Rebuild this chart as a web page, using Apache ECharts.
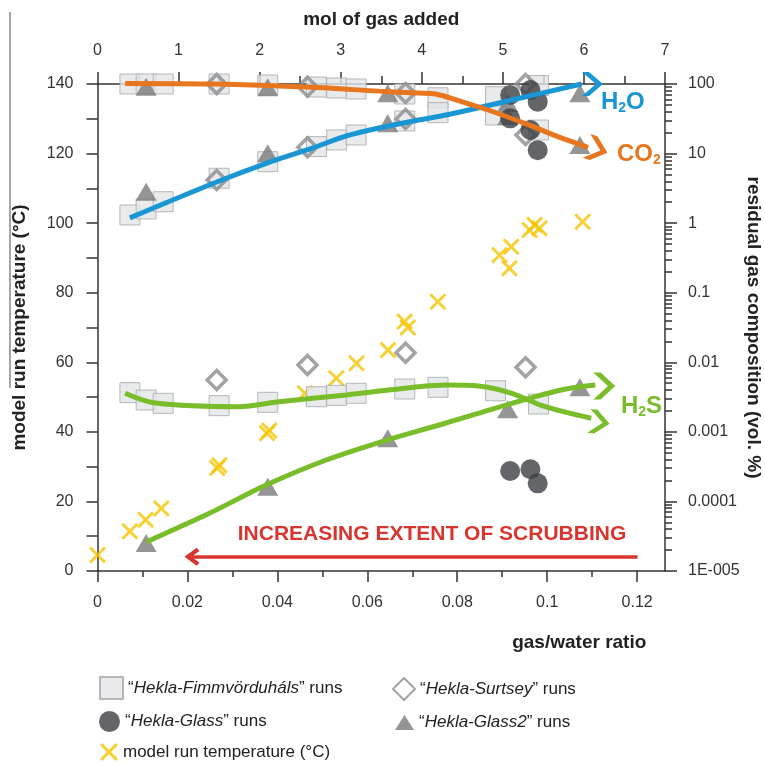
<!DOCTYPE html>
<html><head><meta charset="utf-8">
<script src="https://cdn.jsdelivr.net/npm/echarts@6/dist/echarts.min.js"></script>
<style>html,body{margin:0;padding:0;background:#fff}#c{width:765px;height:765px}</style>
</head><body><div id="c"></div>
<script>
// ---------- tick labels ----------
const ratioTicks = [0, 0.02, 0.04, 0.06, 0.08, 0.1, 0.12];
const ratioMinorTicks = [0.01, 0.03, 0.05, 0.07, 0.09, 0.11];
const logTicks = [1e-5, 1e-4, 1e-3, 1e-2, 0.1, 1, 10, 100];
const logTickLabels = ['1E-005', '0.0001', '0.001', '0.01', '0.1', '1', '10', '100'];

// ---------- model run temperature (x = gas/water ratio, y = °C) ----------
const tempRatio = [0, 0.0072, 0.0107, 0.0142, 0.0266, 0.0271, 0.0377, 0.0382, 0.0461, 0.0531, 0.0576, 0.0646, 0.0683, 0.069, 0.0757, 0.0894, 0.0916, 0.092, 0.0961, 0.0972, 0.0983, 0.1079];
const tempC = [4.6, 11.4, 14.7, 18.0, 29.6, 30.4, 39.6, 40.4, 51.1, 55.4, 59.7, 63.5, 71.7, 70.0, 77.4, 90.8, 87.0, 93.2, 98.0, 99.5, 98.5, 100.4];

// ---------- residual gas composition (x = mol of gas added, y = vol. %) ----------
const fimmMol = [0.40, 0.60, 0.81, 1.50, 2.10, 2.70, 2.95, 3.19, 3.79, 4.20, 4.91, 5.44];
const fimmCO2 = [100, 100, 100, 100, 96.7, 90.5, 87.6, 84.8, 71.8, 63.5, 65.7, 95];
const fimmH2O = [1.31, 1.60, 2.03, 4.42, 7.64, 12.6, 15.7, 18.5, 29.4, 38.7, 35.8, 21.8];
const fimmH2S = [0.00366, 0.00287, 0.00257, 0.00238, 0.00266, 0.00320, 0.00335, 0.00358, 0.00413, 0.00437, 0.0039, 0.00251];

const surtMol = [1.47, 2.59, 3.80, 5.28];
const surtCO2 = [100, 91.4, 74.2, 100];
const surtH2O = [4.17, 12.3, 31.4, 18.5];
const surtH2S = [0.00556, 0.00914, 0.01374, 0.00849];

const glassMol = [5.09, 5.34, 5.43];
const glassCO2 = [69.5, 82, 55.7];
const glassH2O = [32.1, 21.8, 11.2];
const glassH2S = [0.000274, 0.000290, 0.000182];

const glass2Mol = [0.60, 2.10, 3.58, 5.06, 5.95];
const glass2CO2 = [91.4, 90, 73.5, 53.3, 13.3];
const glass2H2O = [2.83, 10.1, 27.2, 34.7, 73.5];
const glass2H2S = [0.0000252, 0.000163, 0.000807, 0.00211, 0.00437];

// ---------- model curves ----------
const h2oMol = [0.40, 1.47, 2.09, 2.65, 3.07, 3.47, 3.96, 4.30, 5.11, 5.97];
const h2oLine = [1.19, 3.90, 7.31, 12.0, 17.9, 23.3, 30.4, 35.8, 58.9, 100];
const co2Mol = [0.34, 1.42, 2.65, 3.47, 3.96, 4.17, 4.49, 4.82, 5.32, 5.68, 6.05];
const co2Line = [102, 100, 89.7, 79, 74, 72, 55.7, 42.3, 25.8, 17.5, 12.3];
const h2sAMol = [0.34, 0.69, 1.75, 2.24, 3.07, 3.96, 4.30, 4.70, 5.11, 5.52, 6.09];
const h2sALine = [0.00358, 0.00262, 0.00230, 0.00271, 0.00339, 0.00446, 0.00471, 0.00456, 0.00358, 0.00230, 0.00157];
const h2sBMol = [0.61, 1.38, 2.08, 2.82, 3.57, 4.29, 5.11, 5.72, 6.14];
const h2sBLine = [0.0000264, 0.0000675, 0.000172, 0.000394, 0.000763, 0.00133, 0.00257, 0.0040, 0.00471];

// ---------- styling ----------
const FONT = "'Liberation Sans', Arial, Helvetica, sans-serif";
const AX = '#333';
const crossPath = 'path://M0,1.2 L1.2,0 L5,3.8 L8.8,0 L10,1.2 L6.2,5 L10,8.8 L8.8,10 L5,6.2 L1.2,10 L0,8.8 L3.8,5 Z';
const chevronRight = 'path://M0,0 L4,0 L12,10 L4,20 L0,20 L8,10 Z';
const chevronUp = 'path://M5,0 L10,8.2 L8.2,10 L5,4.6 L1.8,10 L0,8.2 Z';
const C_BLUE = '#1a96d4', C_ORANGE = '#e8761e', C_GREEN = '#79bd2a', C_YELLOW = '#f5c400', C_RED = '#d8352f';

let logMinor = [];
for (let e = -5; e < 2; e++) for (let k = 2; k <= 9; k++) logMinor.push(k * Math.pow(10, e));

function pts(mol, vals) { return mol.map((m, i) => [m, vals[i]]); }
function triple(mol, a, b, c) { return pts(mol, a).concat(pts(mol, b), pts(mol, c)); }
function modelData(mol, vals, arrow) {
  return mol.map((m, i) => i === mol.length - 1
    ? { value: [m, vals[i]], symbol: chevronRight, symbolSize: arrow.size, symbolOffset: arrow.offset, symbolRotate: arrow.rotate }
    : [m, vals[i]]);
}
function modelSeries(name, mol, vals, color, arrow) {
  return {
    name, type: 'line', xAxisIndex: 1, yAxisIndex: 1, smooth: 0.3, clip: false,
    symbol: 'none', showSymbol: true, silent: true, z: 6,
    lineStyle: { color, width: 5 }, itemStyle: { color },
    data: modelData(mol, vals, arrow)
  };
}
const tickLine = { color: AX, width: 1.5 };
const labelStyle = { fontSize: 16, color: '#333', fontFamily: FONT };
const nameStyle = { fontSize: 19, fontWeight: 'bold', color: '#222', fontFamily: FONT };

const option = {
  animation: false,
  backgroundColor: '#fff',
  textStyle: { fontFamily: FONT },
  grid: { left: 97.5, right: 100, top: 84, bottom: 194, containLabel: false, outerBoundsMode: 'none' },
  xAxis: [
    { type: 'value', position: 'bottom', min: 0, max: 0.1262,
      axisLine: { show: true, onZero: false, lineStyle: tickLine },
      axisTick: { show: true, length: 11, customValues: ratioTicks, lineStyle: tickLine },
      axisLabel: { customValues: ratioTicks, margin: 24, ...labelStyle },
      splitLine: { show: false },
      name: 'gas/water ratio', nameLocation: 'middle', nameGap: 62, nameMoveOverlap: false,
      nameTextStyle: { ...nameStyle, padding: [0, 0, 0, 396] } },
    { type: 'value', position: 'top', min: 0, max: 7, interval: 1,
      axisLine: { show: true, onZero: false, lineStyle: tickLine },
      axisTick: { show: true, length: 12, lineStyle: tickLine },
      minorTick: { show: true, splitNumber: 2, length: 8, lineStyle: tickLine },
      axisLabel: { margin: 25, ...labelStyle },
      splitLine: { show: false },
      name: 'mol of gas added', nameLocation: 'middle', nameGap: 55, nameMoveOverlap: false, nameTextStyle: nameStyle },
    { type: 'value', position: 'bottom', min: 0, max: 0.1262,
      axisLine: { show: false, onZero: false },
      axisTick: { show: true, length: 6, customValues: ratioMinorTicks, lineStyle: tickLine },
      axisLabel: { show: false }, splitLine: { show: false } }
  ],
  yAxis: [
    { type: 'value', position: 'left', min: 0, max: 140, interval: 20,
      axisLine: { show: true, onZero: false, lineStyle: tickLine },
      axisTick: { show: true, length: 11, lineStyle: tickLine },
      minorTick: { show: true, splitNumber: 2, length: 11, lineStyle: tickLine },
      axisLabel: { margin: 24, ...labelStyle },
      splitLine: { show: false },
      name: 'model run temperature (°C)', nameLocation: 'middle', nameGap: 68, nameTextStyle: nameStyle },
    { type: 'log', logBase: 10, position: 'right', min: 1e-5, max: 100,
      axisLine: { show: true, onZero: false, lineStyle: tickLine },
      axisTick: { show: true, length: 12, customValues: logTicks, lineStyle: tickLine },
      axisLabel: { customValues: logTicks, margin: 23, ...labelStyle,
        formatter: v => logTickLabels[Math.round(Math.log10(v)) + 5] },
      splitLine: { show: false },
      name: 'residual gas composition (vol. %)', nameLocation: 'middle', nameGap: 79, nameRotate: -90,
      nameMoveOverlap: false, nameTextStyle: nameStyle },
    { type: 'log', logBase: 10, position: 'right', min: 1e-5, max: 100,
      axisLine: { show: false, onZero: false },
      axisTick: { show: true, length: 7, customValues: logMinor, lineStyle: tickLine },
      axisLabel: { show: false }, splitLine: { show: false } }
  ],
  legend: [
    { data: ['Hekla-Fimmvörduháls'], left: 99, top: 676, itemWidth: 23, itemHeight: 22 },
    { data: ['Hekla-Surtsey'], left: 392, top: 677, itemWidth: 22, itemHeight: 22 },
    { data: ['Hekla-Glass'], left: 99, top: 711, itemWidth: 21, itemHeight: 21 },
    { data: ['Hekla-Glass2'], left: 395, top: 714, itemWidth: 19, itemHeight: 15 },
    { data: ['model run temperature (°C)'], left: 100, top: 743, itemWidth: 18, itemHeight: 18 }
  ].map((l, i) => Object.assign({
    orient: 'horizontal', padding: 0, itemGap: 0, selectedMode: false,
    textStyle: { fontSize: 17, color: '#222', fontFamily: FONT,
      rich: { i: { fontSize: 17, fontStyle: 'italic', color: '#222', fontFamily: FONT } } },
    formatter: i === 4 ? (n => n) : (n => '“{i|' + n + '}” runs')
  }, l)),
  graphic: [
    { type: 'line', shape: { x1: 10, y1: 12, x2: 10, y2: 388 }, style: { stroke: '#8a8a8a', lineWidth: 1.5 } },
    { type: 'text', x: 601, y: 102, z: 10, style: { text: '{a|H}{s|2}{a|O}', verticalAlign: 'middle', align: 'left',
      rich: { a: { fontSize: 24, fontWeight: 'bold', fill: C_BLUE, color: C_BLUE, fontFamily: FONT },
              s: { fontSize: 14, fontWeight: 'bold', fill: C_BLUE, color: C_BLUE, fontFamily: FONT, padding: [12, 0, 0, 0] } } } },
    { type: 'text', x: 617, y: 154, z: 10, style: { text: '{a|CO}{s|2}', verticalAlign: 'middle', align: 'left',
      rich: { a: { fontSize: 24, fontWeight: 'bold', fill: C_ORANGE, color: C_ORANGE, fontFamily: FONT },
              s: { fontSize: 14, fontWeight: 'bold', fill: C_ORANGE, color: C_ORANGE, fontFamily: FONT, padding: [12, 0, 0, 0] } } } },
    { type: 'text', x: 621, y: 406, z: 10, style: { text: '{a|H}{s|2}{a|S}', verticalAlign: 'middle', align: 'left',
      rich: { a: { fontSize: 24, fontWeight: 'bold', fill: C_GREEN, color: C_GREEN, fontFamily: FONT },
              s: { fontSize: 14, fontWeight: 'bold', fill: C_GREEN, color: C_GREEN, fontFamily: FONT, padding: [12, 0, 0, 0] } } } },
    { type: 'text', x: 432, y: 534, z: 10, style: { text: 'INCREASING EXTENT OF SCRUBBING', align: 'center', verticalAlign: 'middle',
      fontSize: 21, fontWeight: 'bold', fill: C_RED, fontFamily: FONT } }
  ],
  series: [
    { name: 'model run temperature (°C)', type: 'scatter', xAxisIndex: 0, yAxisIndex: 0, z: 1, clip: false,
      symbol: crossPath, symbolSize: 17, itemStyle: { color: C_YELLOW },
      data: pts(tempRatio, tempC),
      markLine: { silent: true, symbol: ['none', chevronUp], symbolSize: [18, 15], animation: false,
        lineStyle: { color: C_RED, width: 3.5, type: 'solid' }, itemStyle: { color: C_RED },
        label: { show: false }, emphasis: { disabled: true },
        data: [[{ coord: [0.1201, 4.1] }, { coord: [0.0210, 4.1] }]] } },
    { name: 'Hekla-Fimmvörduháls', type: 'scatter', xAxisIndex: 1, yAxisIndex: 1, z: 2, clip: false,
      symbol: 'rect', symbolSize: 20,
      itemStyle: { color: '#e4e5e7', borderColor: '#a5a7aa', borderWidth: 1 },
      data: triple(fimmMol, fimmCO2, fimmH2O, fimmH2S) },
    { name: 'Hekla-Surtsey', type: 'scatter', xAxisIndex: 1, yAxisIndex: 1, z: 3, clip: false,
      symbol: 'diamond', symbolSize: 19,
      itemStyle: { color: 'rgba(255,255,255,0)', borderColor: '#8b8c8f', borderWidth: 3.5 },
      data: triple(surtMol, surtCO2, surtH2O, surtH2S) },
    { name: 'Hekla-Glass2', type: 'scatter', xAxisIndex: 1, yAxisIndex: 1, z: 4, clip: false,
      symbol: 'triangle', symbolSize: [21, 18], itemStyle: { color: '#7a7a7c' },
      data: triple(glass2Mol, glass2CO2, glass2H2O, glass2H2S) },
    { name: 'Hekla-Glass', type: 'scatter', xAxisIndex: 1, yAxisIndex: 1, z: 5, clip: false,
      symbol: 'circle', symbolSize: 20, itemStyle: { color: '#3c3f43' },
      data: triple(glassMol, glassCO2, glassH2O, glassH2S) },
    modelSeries('H2O model', h2oMol, h2oLine, C_BLUE, { size: [21, 24], offset: [11, 0], rotate: 0 }),
    modelSeries('CO2 model', co2Mol, co2Line, C_ORANGE, { size: [22, 25], offset: [9, 2], rotate: -18 }),
    modelSeries('H2S model A', h2sAMol, h2sALine, C_GREEN, { size: [21, 24], offset: [8, 4], rotate: -8 }),
    modelSeries('H2S model B', h2sBMol, h2sBLine, C_GREEN, { size: [22, 27], offset: [9, 1], rotate: 0 })
  ]
};
const chart = echarts.init(document.getElementById('c'), null, { renderer: 'canvas' });
chart.setOption(option);
</script>
</body></html>
